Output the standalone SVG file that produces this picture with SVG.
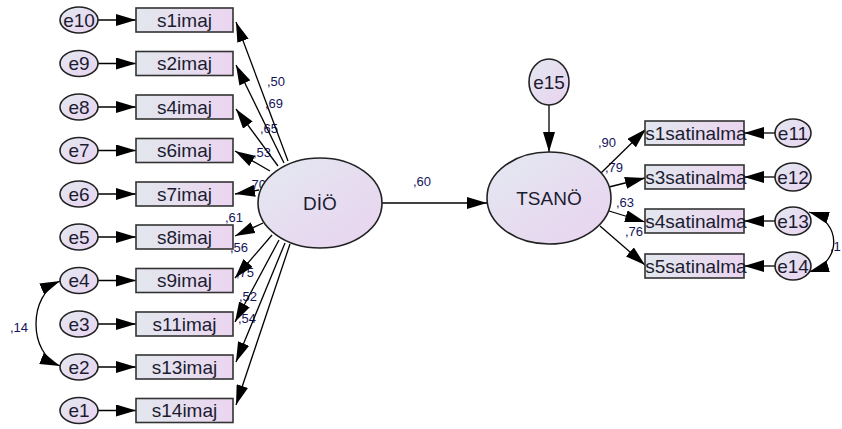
<svg xmlns="http://www.w3.org/2000/svg" width="842" height="429" viewBox="0 0 842 429">
<defs>
<linearGradient id="gBox" x1="0" y1="0" x2="1" y2="0">
<stop offset="0" stop-color="#e2e7ee"/><stop offset="1" stop-color="#ebd5f0"/>
</linearGradient>
<linearGradient id="gEll" x1="0" y1="0" x2="1" y2="1">
<stop offset="0" stop-color="#e3e8f1"/><stop offset="1" stop-color="#e9d3ef"/>
</linearGradient>
<marker id="ah" viewBox="0 0 20 12" refX="20" refY="6" markerWidth="20" markerHeight="12" markerUnits="userSpaceOnUse" orient="auto-start-reverse">
<path d="M0,0 L20,6 L0,12 z" fill="#000"/>
</marker>
<style>
.box{fill:url(#gBox);stroke:#333;stroke-width:1.6}
.ell{fill:url(#gEll);stroke:#222;stroke-width:1.6}
.t{font-family:"Liberation Sans",Arial,sans-serif;font-size:19px;fill:#1c1c30;text-anchor:middle}
.lb{font-family:"Liberation Sans",Arial,sans-serif;font-size:13px;fill:#14145a}
.c{stroke:#000;stroke-width:1.3;fill:none;marker-end:url(#ah)}
.cv{stroke:#000;stroke-width:1.3;fill:none;marker-end:url(#ah);marker-start:url(#ah)}
</style>
</defs>

<g id="labels">
<text class="lb" x="267" y="86">,50</text>
<text class="lb" x="265" y="108">,69</text>
<text class="lb" x="260" y="133">,65</text>
<text class="lb" x="253" y="157">,53</text>
<text class="lb" x="248" y="189">,70</text>
<text class="lb" x="225" y="222">,61</text>
<text class="lb" x="230" y="252">,56</text>
<text class="lb" x="236" y="277">,75</text>
<text class="lb" x="239" y="301">,52</text>
<text class="lb" x="238" y="323">,54</text>
<text class="lb" x="413" y="186">,60</text>
<text class="lb" x="598" y="147">,90</text>
<text class="lb" x="605" y="172">,79</text>
<text class="lb" x="616" y="207">,63</text>
<text class="lb" x="625" y="236">,76</text>
<text class="lb" x="830" y="251">,1</text>
<text class="lb" x="10" y="332">,14</text>
</g>

<g id="connectors">
<line class="c" x1="98" y1="20" x2="136" y2="20"/>
<line class="c" x1="98" y1="63.5" x2="136" y2="63.5"/>
<line class="c" x1="98" y1="107" x2="136" y2="107"/>
<line class="c" x1="98" y1="150.5" x2="136" y2="150.5"/>
<line class="c" x1="98" y1="194" x2="136" y2="194"/>
<line class="c" x1="98" y1="237" x2="136" y2="237"/>
<line class="c" x1="98" y1="280.5" x2="136" y2="280.5"/>
<line class="c" x1="98" y1="324" x2="136" y2="324"/>
<line class="c" x1="98" y1="367" x2="136" y2="367"/>
<line class="c" x1="98" y1="410.5" x2="136" y2="410.5"/>

<line class="c" x1="288" y1="161" x2="236" y2="22"/>
<line class="c" x1="284" y1="163" x2="236" y2="65"/>
<line class="c" x1="278" y1="166" x2="236" y2="109"/>
<line class="c" x1="270" y1="171" x2="235" y2="151"/>
<line class="c" x1="259" y1="190" x2="235" y2="194"/>
<line class="c" x1="263" y1="223" x2="235" y2="236"/>
<line class="c" x1="272" y1="235" x2="235" y2="278"/>
<line class="c" x1="279" y1="240" x2="235" y2="322"/>
<line class="c" x1="285" y1="243" x2="236" y2="362"/>
<line class="c" x1="290" y1="244" x2="236" y2="405"/>

<line class="c" x1="382" y1="203" x2="487" y2="203"/>
<line class="c" x1="549" y1="105" x2="549" y2="152"/>

<line class="c" x1="600" y1="174" x2="646" y2="129"/>
<line class="c" x1="609" y1="187" x2="645" y2="178"/>
<line class="c" x1="609" y1="211" x2="645" y2="222"/>
<line class="c" x1="600" y1="226" x2="645" y2="265"/>

<line class="c" x1="775" y1="133" x2="744" y2="133"/>
<line class="c" x1="775" y1="177" x2="744" y2="177"/>
<line class="c" x1="775" y1="221" x2="744" y2="221"/>
<line class="c" x1="775" y1="266" x2="744" y2="266"/>

<path class="cv" d="M60,281 C28,295 28,353 60,366"/>
<path class="cv" d="M809,212 C842,222 842,262 809,272"/>
</g>

<g id="n-s1imaj"><rect class="box" x="136" y="8" width="97" height="24"/><text class="t" x="184.5" y="26.5">s1imaj</text></g>
<g id="n-s2imaj"><rect class="box" x="136" y="51.5" width="97" height="24"/><text class="t" x="184.5" y="70">s2imaj</text></g>
<g id="n-s4imaj"><rect class="box" x="136" y="95" width="97" height="24"/><text class="t" x="184.5" y="113.5">s4imaj</text></g>
<g id="n-s6imaj"><rect class="box" x="136" y="138.5" width="97" height="24"/><text class="t" x="184.5" y="157">s6imaj</text></g>
<g id="n-s7imaj"><rect class="box" x="136" y="182" width="97" height="24"/><text class="t" x="184.5" y="200.5">s7imaj</text></g>
<g id="n-s8imaj"><rect class="box" x="136" y="225" width="97" height="24"/><text class="t" x="184.5" y="243.5">s8imaj</text></g>
<g id="n-s9imaj"><rect class="box" x="136" y="268.5" width="97" height="24"/><text class="t" x="184.5" y="287">s9imaj</text></g>
<g id="n-s11imaj"><rect class="box" x="136" y="312" width="97" height="24"/><text class="t" x="184.5" y="330.5">s11imaj</text></g>
<g id="n-s13imaj"><rect class="box" x="136" y="355" width="97" height="24"/><text class="t" x="184.5" y="373.5">s13imaj</text></g>
<g id="n-s14imaj"><rect class="box" x="136" y="398.5" width="97" height="24"/><text class="t" x="184.5" y="417">s14imaj</text></g>

<g id="n-e10"><ellipse class="ell" cx="79" cy="20" rx="19" ry="13"/><text class="t" x="79" y="26.5">e10</text></g>
<g id="n-e9"><ellipse class="ell" cx="79" cy="63.5" rx="19" ry="13"/><text class="t" x="79" y="70">e9</text></g>
<g id="n-e8"><ellipse class="ell" cx="79" cy="107" rx="19" ry="13"/><text class="t" x="79" y="113.5">e8</text></g>
<g id="n-e7"><ellipse class="ell" cx="79" cy="150.5" rx="19" ry="13"/><text class="t" x="79" y="157">e7</text></g>
<g id="n-e6"><ellipse class="ell" cx="79" cy="194" rx="19" ry="13"/><text class="t" x="79" y="200.5">e6</text></g>
<g id="n-e5"><ellipse class="ell" cx="79" cy="237" rx="19" ry="13"/><text class="t" x="79" y="243.5">e5</text></g>
<g id="n-e4"><ellipse class="ell" cx="79" cy="280.5" rx="19" ry="13"/><text class="t" x="79" y="287">e4</text></g>
<g id="n-e3"><ellipse class="ell" cx="79" cy="324" rx="19" ry="13"/><text class="t" x="79" y="330.5">e3</text></g>
<g id="n-e2"><ellipse class="ell" cx="79" cy="367" rx="19" ry="13"/><text class="t" x="79" y="373.5">e2</text></g>
<g id="n-e1"><ellipse class="ell" cx="79" cy="410.5" rx="19" ry="13"/><text class="t" x="79" y="417">e1</text></g>

<g id="n-DIO"><ellipse class="ell" cx="320" cy="203" rx="62" ry="45"/><text class="t" x="320" y="210">DİÖ</text></g>
<g id="n-TSANO"><ellipse class="ell" cx="549" cy="198" rx="62" ry="46"/><text class="t" x="549" y="205">TSANÖ</text></g>
<g id="n-e15"><ellipse class="ell" cx="549" cy="82" rx="20" ry="23"/><text class="t" x="549" y="89">e15</text></g>

<g id="n-s1satinalma"><rect class="box" x="645" y="121" width="99" height="24"/><text class="t" x="696" y="139.5">s1satinalma</text></g>
<g id="n-s3satinalma"><rect class="box" x="645" y="165" width="99" height="24"/><text class="t" x="696" y="183.5">s3satinalma</text></g>
<g id="n-s4satinalma"><rect class="box" x="645" y="209" width="99" height="24"/><text class="t" x="696" y="227.5">s4satinalma</text></g>
<g id="n-s5satinalma"><rect class="box" x="645" y="254" width="99" height="24"/><text class="t" x="696" y="272.5">s5satinalma</text></g>

<g id="n-e11"><ellipse class="ell" cx="793" cy="133" rx="18" ry="14"/><text class="t" x="793" y="139.5">e11</text></g>
<g id="n-e12"><ellipse class="ell" cx="793" cy="177" rx="18" ry="14"/><text class="t" x="793" y="183.5">e12</text></g>
<g id="n-e13"><ellipse class="ell" cx="793" cy="221" rx="18" ry="14"/><text class="t" x="793" y="227.5">e13</text></g>
<g id="n-e14"><ellipse class="ell" cx="793" cy="266" rx="18" ry="14"/><text class="t" x="793" y="272.5">e14</text></g>
</svg>
